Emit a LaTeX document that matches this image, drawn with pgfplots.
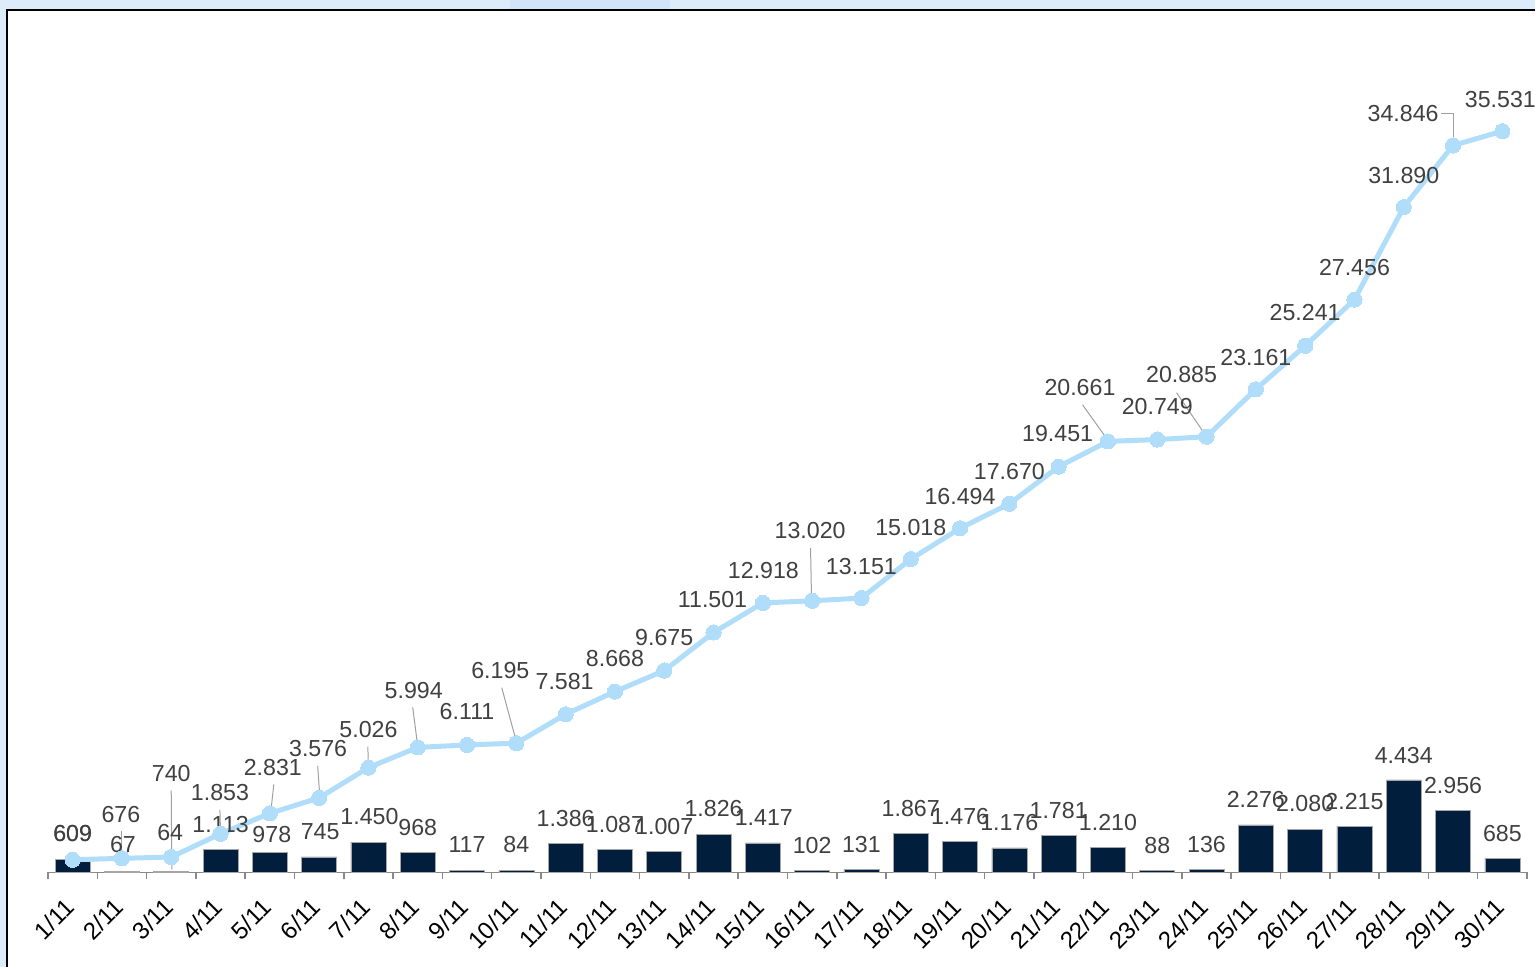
\documentclass[border=0pt]{standalone}
\usepackage{pgfplots}
\pgfplotsset{compat=1.18}
\usepackage{pgfplotstable}
\usepackage{fontspec}
\setmainfont{Liberation Sans}
\definecolor{barcol}{RGB}{1,30,60}
\definecolor{linecol}{RGB}{176,222,250}
\definecolor{lblcol}{RGB}{64,64,64}
\definecolor{bgblue}{RGB}{221,236,250}
\definecolor{bgblue2}{RGB}{210,229,248}
\definecolor{axcol}{RGB}{137,137,137}
\definecolor{leadcol}{RGB}{160,160,160}
\newcommand{\lblfont}{\fontsize{11.6}{14}\selectfont}
\newcommand{\tickfont}{\fontsize{12}{14.4}\selectfont}

\pgfplotstableread{
x y lx ly
0 609 0 13
1 67 0.5 13.3
2 64 -0.5 19.3
3 1113 0 12.4
4 978 1 8.8
5 745 0.5 12.7
6 1450 0.5 12.9
7 968 0 12.4
8 117 0 12.8
9 84 0 13.1
10 1386 0 12.5
11 1087 0 12.6
12 1007 0 12.5
13 1826 0 12.9
14 1417 0.5 12.7
15 102 0 12.4
16 131 0 12.6
17 1867 0 12.5
18 1476 0 12.6
19 1176 0 12.7
20 1781 0 12.4
21 1210 0 12.4
22 88 0 12.6
23 136 0 12.6
24 2276 0 12.7
25 2080 0 12.8
26 2215 0 12.4
27 4434 0 12.2
28 2956 0 12.6
29 685 0 12.4
}\daily

\pgfplotstableread{
x y lx ly
0 609 0 13
1 676 -0.5 22
2 740 0 42
3 1853 -0.3 20.5
4 2831 1.5 23
5 3576 -0.5 24.5
6 5026 0 19
7 5994 -2 28.5
8 6111 0 16.5
9 6195 -8 36.5
10 7581 -0.5 16.5
11 8668 0 16.5
12 9675 0 16.5
13 11501 -0.5 16.5
14 12918 0.3 16
15 13020 -1 35
16 13151 0 16
17 15018 0 16
18 16494 0 16
19 17670 0 16
20 19451 -0.5 16.5
21 20661 -14 27
22 20749 0 16.5
23 20885 -12.5 31
24 23161 0 16
25 25241 0 16.5
26 27456 0 16
27 31890 0 16
28 34846 -25 16
29 35531 -1 16
}\cumul

\begin{document}
\begin{tikzpicture}
\fill[bgblue] (0,0) rectangle (768pt,-484pt);
\fill[bgblue2] (255pt,0) rectangle (335pt,-5pt);
\fill[white] (3.75pt,-5.25pt) rectangle (768pt,-484pt);
\draw[black, line width=1pt] (3.75pt,-484pt) -- (3.75pt,-5.25pt) -- (768pt,-5.25pt);
\path[use as bounding box] (0,0) rectangle (768pt,-484pt);
\begin{axis}[
  at={(24pt,-436.5pt)}, anchor=south west,
  scale only axis, width=740pt, height=431.5pt,
  xmin=-0.5, xmax=29.5, ymin=0, ymax=41338,
  axis x line*=bottom, axis y line=none,
  axis line style={axcol, line width=0.75pt},
  clip=false,
  xtick={0,...,29},
  xticklabels={1/11,2/11,3/11,4/11,5/11,6/11,7/11,8/11,9/11,10/11,11/11,12/11,13/11,14/11,15/11,16/11,17/11,18/11,19/11,20/11,21/11,22/11,23/11,24/11,25/11,26/11,27/11,28/11,29/11,30/11},
  major tick length=0pt,
  extra x ticks={-0.5,0.5,...,29.5},
  extra x tick labels={},
  extra x tick style={major tick length=3.5pt, tick align=outside, tick style={axcol, line width=0.75pt}},
  tick label style={font=\tickfont},
  xticklabel style={xshift=-4.5pt, yshift=-12pt, rotate=45, anchor=north east, inner sep=0pt, font=\tickfont, text=black},
  ytick=\empty,
  /pgf/number format/.cd, fixed, precision=0, 1000 sep={.}, assume math mode=true,
]
\addplot[ybar, bar width=17.5pt, bar shift=0pt, fill=barcol, draw=gray!70, line width=0.3pt,
  point meta=\thisrow{y},
  nodes near coords={\pgfmathprintnumber{\pgfplotspointmeta}},
  visualization depends on={\thisrow{lx}\as\myLX},
  visualization depends on={\thisrow{ly}\as\myLY},
  every node near coord/.append style={anchor=center, inner sep=0pt, xshift=\myLX pt, yshift=\myLY pt, text=lblcol, font=\lblfont}
] table[x=x, y=y] {\daily};
\addplot[color=linecol, line width=2.5pt, mark=*, mark size=3.8pt, mark options={fill=linecol, draw=linecol, line width=0pt},
  point meta=\thisrow{y},
  nodes near coords={\pgfmathprintnumber{\pgfplotspointmeta}},
  visualization depends on={\thisrow{lx}\as\myLX},
  visualization depends on={\thisrow{ly}\as\myLY},
  every node near coord/.append style={anchor=center, inner sep=0pt, xshift=\myLX pt, yshift=\myLY pt, text=lblcol, font=\lblfont}
] table[x=x, y=y] {\cumul};
% leader lines
\begin{scope}[leadcol, line width=0.5pt]
\draw ([shift={(0pt,13.5pt)}]axis cs:1,676) -- ([shift={(0pt,1pt)}]axis cs:1,676);
\draw ([shift={(0pt,33.3pt)}]axis cs:2,740) -- ([shift={(0.3pt,-6.2pt)}]axis cs:2,740);
\draw ([shift={(-0.3pt,12pt)}]axis cs:3,1853) -- ([shift={(0pt,0.5pt)}]axis cs:3,1853);
\draw ([shift={(2pt,14.5pt)}]axis cs:4,2831) -- ([shift={(0.5pt,1pt)}]axis cs:4,2831);
\draw ([shift={(-0.7pt,16pt)}]axis cs:5,3576) -- ([shift={(0.3pt,1pt)}]axis cs:5,3576);
\draw ([shift={(-0.3pt,10.5pt)}]axis cs:6,5026) -- ([shift={(0pt,0.5pt)}]axis cs:6,5026);
\draw ([shift={(-2.5pt,20pt)}]axis cs:7,5994) -- ([shift={(0pt,0.5pt)}]axis cs:7,5994);
\draw ([shift={(-7.3pt,27.8pt)}]axis cs:9,6195) -- ([shift={(0pt,0.8pt)}]axis cs:9,6195);
\draw ([shift={(-0.8pt,26.5pt)}]axis cs:15,13020) -- ([shift={(-0.3pt,0.5pt)}]axis cs:15,13020);
\draw ([shift={(-12.7pt,18.3pt)}]axis cs:21,20661) -- ([shift={(-0.2pt,0.8pt)}]axis cs:21,20661);
\draw ([shift={(-15pt,22pt)}]axis cs:23,20885) -- ([shift={(0pt,0pt)}]axis cs:23,20885);
\draw ([shift={(-5.8pt,16.2pt)}]axis cs:28,34846) -- ([shift={(0.2pt,16.2pt)}]axis cs:28,34846) -- ([shift={(0.2pt,0.2pt)}]axis cs:28,34846);
\end{scope}
\end{axis}
\end{tikzpicture}
\end{document}
